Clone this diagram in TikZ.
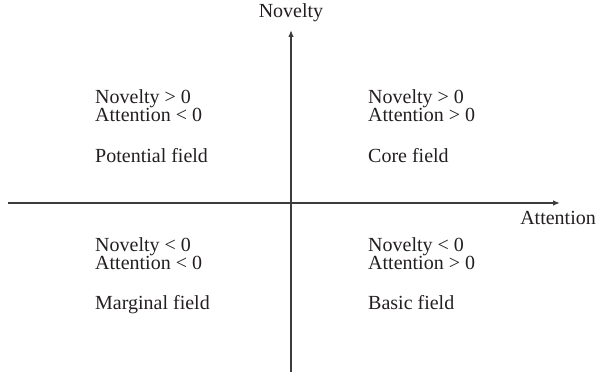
\documentclass[tikz,border=0pt]{standalone}
\usepackage{fontspec}
\setmainfont{Liberation Serif}
\usetikzlibrary{arrows.meta}
\definecolor{axisgray}{HTML}{3C3C3C}
\definecolor{textblack}{HTML}{231F20}
\tikzset{
  axis/.style={draw=axisgray, line width=1.3pt, -{Latex[length=7pt,width=5.5pt]}},
  lbl/.style={inner sep=0pt, font=\fontsize{20}{18}\selectfont, text=textblack},
  cond/.style={lbl, align=left, anchor=base west},
}
\begin{document}
\begin{tikzpicture}[x=1pt,y=-1pt]
\useasboundingbox (0,0) rectangle (597,377);
% axes
\coordinate (vbot) at (291,372);
\coordinate (vtop) at (291,30);
\coordinate (hleft) at (8,203);
\coordinate (hright) at (560,203);
\draw[axis] (vbot) -- (vtop);
\draw[axis] (hleft) -- (hright);
% axis labels
\node[lbl, anchor=base] (ylab) at (291,18) {Novelty};
\node[lbl, anchor=base east] (xlab) at (596,224) {Attention};
% quadrant texts (base anchor = last line's baseline)
\node[cond] (tl1) at (95,122) {Novelty {>} 0\\Attention {<} 0};
\node[lbl, anchor=base west] (tl3) at (95,162) {Potential field};
\node[cond] (tr1) at (368,122) {Novelty {>} 0\\Attention {>} 0};
\node[lbl, anchor=base west] (tr3) at (368,162) {Core field};
\node[cond] (bl1) at (95,269) {Novelty {<} 0\\Attention {<} 0};
\node[lbl, anchor=base west] (bl3) at (95,309) {Marginal field};
\node[cond] (br1) at (368,269) {Novelty {<} 0\\Attention {>} 0};
\node[lbl, anchor=base west] (br3) at (368,309) {Basic field};
\end{tikzpicture}
\end{document}
